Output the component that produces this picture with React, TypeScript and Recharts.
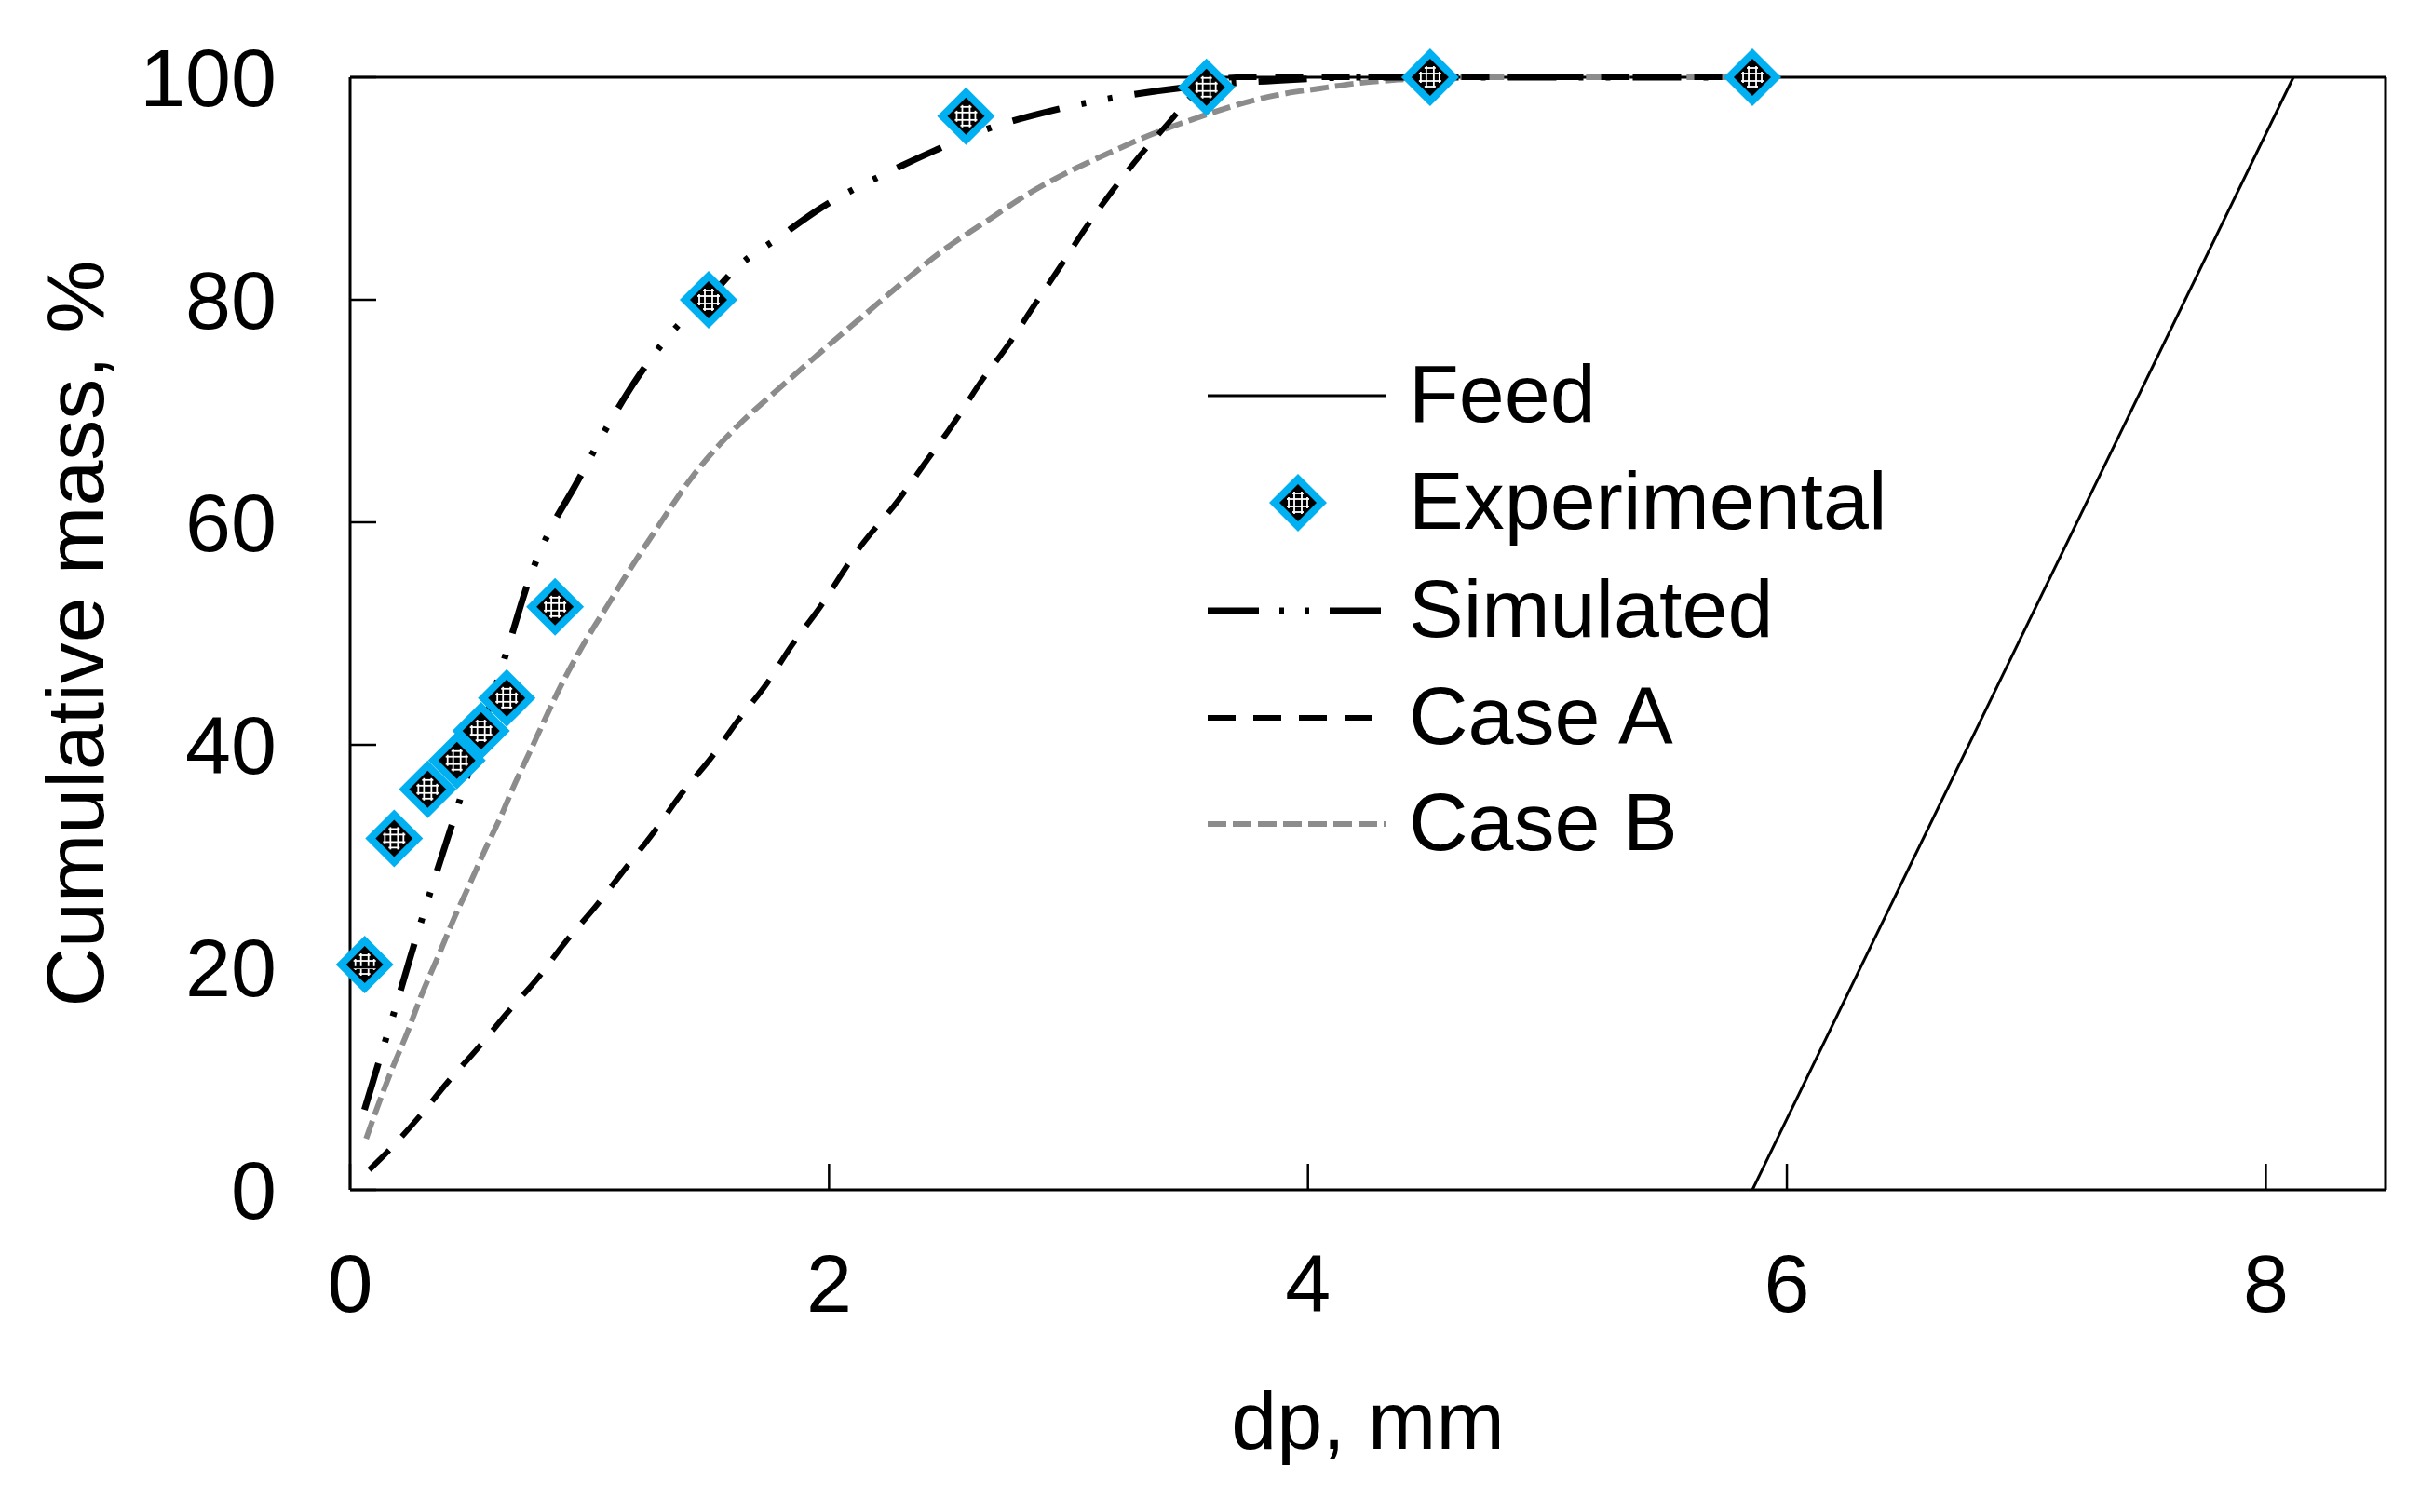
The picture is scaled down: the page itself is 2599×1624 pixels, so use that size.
import React from 'react'
import { ComposedChart, Line, Scatter, XAxis, YAxis, ReferenceLine, Legend, Label } from 'recharts'

const FONT = '"Liberation Sans", Arial, sans-serif'
const CYAN = '#00B0F0'
const GREY = '#8C8C8C'

const xTicks = [0, 2, 4, 6, 8]
const yTicks = [0, 20, 40, 60, 80, 100]

// dp (mm), cumulative mass (%)
const feed = [
  { x: 5.856, y: 0 },
  { x: 8.115, y: 100 },
]

const experimental = [
  { x: 0.061, y: 20.25 },
  { x: 0.184, y: 31.6 },
  { x: 0.324, y: 36.0 },
  { x: 0.446, y: 38.6 },
  { x: 0.547, y: 41.25 },
  { x: 0.654, y: 44.2 },
  { x: 0.856, y: 52.4 },
  { x: 1.497, y: 80.0 },
  { x: 2.572, y: 96.5 },
  { x: 3.576, y: 99.1 },
  { x: 4.51, y: 100 },
  { x: 5.856, y: 100 },
]

const simulated = [
  { x: 0.06, y: 7.2 },
  { x: 0.13, y: 12.2 },
  { x: 0.19, y: 16.4 },
  { x: 0.25, y: 20.8 },
  { x: 0.34, y: 27.1 },
  { x: 0.44, y: 33.8 },
  { x: 0.55, y: 41.3 },
  { x: 0.66, y: 48.8 },
  { x: 0.75, y: 55.0 },
  { x: 0.83, y: 59.1 },
  { x: 0.94, y: 63.3 },
  { x: 1.09, y: 69.2 },
  { x: 1.2, y: 73.0 },
  { x: 1.4, y: 78.4 },
  { x: 1.5, y: 80.3 },
  { x: 1.62, y: 83.0 },
  { x: 1.79, y: 85.6 },
  { x: 1.97, y: 88.3 },
  { x: 2.25, y: 91.5 },
  { x: 2.44, y: 93.4 },
  { x: 2.64, y: 95.2 },
  { x: 2.93, y: 97.0 },
  { x: 3.24, y: 98.35 },
  { x: 3.58, y: 99.3 },
  { x: 3.87, y: 99.7 },
  { x: 4.2, y: 100 },
  { x: 5.85, y: 100 },
]

const caseA = [
  { x: 0.08, y: 1.8 },
  { x: 0.16, y: 3.5 },
  { x: 0.29, y: 6.6 },
  { x: 0.41, y: 9.75 },
  { x: 0.54, y: 12.9 },
  { x: 0.66, y: 16.0 },
  { x: 0.79, y: 19.2 },
  { x: 0.9, y: 22.3 },
  { x: 1.03, y: 25.6 },
  { x: 1.15, y: 28.9 },
  { x: 1.27, y: 32.2 },
  { x: 1.38, y: 35.5 },
  { x: 1.51, y: 38.9 },
  { x: 1.62, y: 42.2 },
  { x: 1.74, y: 45.5 },
  { x: 1.84, y: 48.8 },
  { x: 1.96, y: 52.3 },
  { x: 2.12, y: 57.5 },
  { x: 2.29, y: 62.0 },
  { x: 2.41, y: 65.6 },
  { x: 2.53, y: 69.2 },
  { x: 2.63, y: 72.5 },
  { x: 2.75, y: 76.0 },
  { x: 2.86, y: 79.6 },
  { x: 2.96, y: 82.8 },
  { x: 3.07, y: 86.4 },
  { x: 3.18, y: 89.7 },
  { x: 3.3, y: 93.0 },
  { x: 3.43, y: 96.2 },
  { x: 3.5, y: 98.0 },
  { x: 3.58, y: 99.4 },
  { x: 3.7, y: 100 },
  { x: 5.85, y: 100 },
]

const caseB = [
  { x: 0.067, y: 4.6 },
  { x: 0.11, y: 7.2 },
  { x: 0.17, y: 10.6 },
  { x: 0.24, y: 14.2 },
  { x: 0.3, y: 17.6 },
  { x: 0.37, y: 21.1 },
  { x: 0.43, y: 24.2 },
  { x: 0.5, y: 27.5 },
  { x: 0.56, y: 30.4 },
  { x: 0.63, y: 33.6 },
  { x: 0.69, y: 36.6 },
  { x: 0.76, y: 39.8 },
  { x: 0.82, y: 42.6 },
  { x: 0.88, y: 45.3 },
  { x: 0.95, y: 48.1 },
  { x: 1.01, y: 50.3 },
  { x: 1.08, y: 52.7 },
  { x: 1.14, y: 54.8 },
  { x: 1.27, y: 59.1 },
  { x: 1.44, y: 64.4 },
  { x: 1.62, y: 68.7 },
  { x: 1.79, y: 72.0 },
  { x: 1.96, y: 75.2 },
  { x: 2.14, y: 78.5 },
  { x: 2.31, y: 81.6 },
  { x: 2.48, y: 84.5 },
  { x: 2.66, y: 87.1 },
  { x: 2.83, y: 89.5 },
  { x: 3.0, y: 91.5 },
  { x: 3.18, y: 93.3 },
  { x: 3.35, y: 94.9 },
  { x: 3.53, y: 96.3 },
  { x: 3.7, y: 97.5 },
  { x: 3.87, y: 98.4 },
  { x: 4.05, y: 99.0 },
  { x: 4.22, y: 99.5 },
  { x: 4.39, y: 99.8 },
  { x: 4.55, y: 100 },
  { x: 5.85, y: 100 },
]

const legendNames = ['Feed', 'Experimental', 'Simulated', 'Case A', 'Case B']

// cyan diamond with a hatched black core
function Diamond({ cx, cy }: { cx: number; cy: number }) {
  const pts = (r: number) => `${cx},${cy - r} ${cx + r},${cy} ${cx},${cy + r} ${cx - r},${cy}`
  const offs = [-10, -4, 4, 10]
  const inner = 16
  return (
    <g>
      <polygon points={pts(31)} fill={CYAN} />
      <polygon points={pts(20)} fill="#000" />
      {offs.map((d) => (
        <g key={d}>
          <line x1={cx + d} y1={cy - (inner - Math.abs(d))} x2={cx + d} y2={cy + (inner - Math.abs(d))} stroke="#fff" strokeWidth={1.8} />
          <line x1={cx - (inner - Math.abs(d))} y1={cy + d} x2={cx + (inner - Math.abs(d))} y2={cy + d} stroke="#fff" strokeWidth={1.8} />
        </g>
      ))}
    </g>
  )
}

function XTick({ x, y, payload }: any) {
  return (
    <g>
      <line x1={x} y1={y} x2={x} y2={y - 28} stroke="#000" strokeWidth={2.5} />
      <text x={x} y={y + 131} textAnchor="middle" fontSize={88} fontFamily={FONT} fill="#000">
        {payload.value}
      </text>
    </g>
  )
}

function YTick({ x, y, payload }: any) {
  return (
    <g>
      <line x1={x} y1={y} x2={x + 28} y2={y} stroke="#000" strokeWidth={2.5} />
      <text x={x - 79} y={y + 31} textAnchor="end" fontSize={88} fontFamily={FONT} fill="#000">
        {payload.value}
      </text>
    </g>
  )
}

function LegendBox() {
  const rowY = [65, 180, 296, 411, 525]
  const sample = (name: string, y: number) => {
    switch (name) {
      case 'Feed':
        return <line x1={17} y1={y} x2={209} y2={y} stroke="#000" strokeWidth={3} />
      case 'Experimental':
        return <Diamond cx={114} cy={y} />
      case 'Simulated':
        return <line x1={17} y1={y} x2={209} y2={y} stroke="#000" strokeWidth={7} strokeDasharray="55 22 5 22 5 22" />
      case 'Case A':
        return <line x1={17} y1={y} x2={194} y2={y} stroke="#000" strokeWidth={6} strokeDasharray="30 19" />
      default:
        return <line x1={17} y1={y} x2={209} y2={y} stroke={GREY} strokeWidth={6} strokeDasharray="20 7" />
    }
  }
  return (
    <svg width={800} height={600}>
      {legendNames.map((name, i) => (
        <g key={name}>
          {sample(name, rowY[i])}
          <text x={233} y={rowY[i] + 28} fontSize={88} fontFamily={FONT} fill="#000">
            {name}
          </text>
        </g>
      ))}
    </svg>
  )
}

export default function App() {
  return (
    <div style={{ position: 'fixed', left: 0, top: 0, width: 2599, height: 1624, background: '#fff' }}>
      <ComposedChart width={2599} height={1624} margin={{ top: 83, right: 37, bottom: 0, left: 0 }}>
        <XAxis
          type="number"
          dataKey="x"
          domain={[0, 8.5]}
          ticks={xTicks}
          interval={0}
          height={346}
          tickSize={0}
          tickMargin={0}
          tickLine={false}
          axisLine={{ stroke: '#000', strokeWidth: 3 }}
          tick={<XTick />}
        >
          <Label
            content={({ viewBox }: any) => (
              <text
                x={viewBox.x + viewBox.width / 2}
                y={viewBox.y + 278}
                textAnchor="middle"
                fontSize={88}
                fontFamily={FONT}
                fill="#000"
              >
                dp, mm
              </text>
            )}
          />
        </XAxis>
        <YAxis
          type="number"
          dataKey="y"
          domain={[0, 100]}
          ticks={yTicks}
          interval={0}
          width={376}
          tickSize={0}
          tickMargin={0}
          tickLine={false}
          axisLine={{ stroke: '#000', strokeWidth: 3 }}
          tick={<YTick />}
        >
          <Label
            content={({ viewBox }: any) => {
              const cx = viewBox.x + 111
              const cy = viewBox.y + viewBox.height / 2
              return (
                <text
                  x={cx}
                  y={cy}
                  transform={`rotate(-90, ${cx}, ${cy})`}
                  textAnchor="middle"
                  fontSize={88}
                  fontFamily={FONT}
                  fill="#000"
                >
                  Cumulative mass, %
                </text>
              )
            }}
          />
        </YAxis>
        <ReferenceLine y={100} stroke="#000" strokeWidth={3} />
        <ReferenceLine x={8.5} stroke="#000" strokeWidth={3} />
        <Line
          data={feed}
          dataKey="y"
          name="Feed"
          type="linear"
          stroke="#000"
          strokeWidth={3}
          dot={false}
          activeDot={false}
          isAnimationActive={false}
        />
        <Line
          data={caseB}
          dataKey="y"
          name="Case B"
          type="monotone"
          stroke={GREY}
          strokeWidth={6}
          strokeDasharray="20 7"
          dot={false}
          activeDot={false}
          isAnimationActive={false}
        />
        <Line
          data={caseA}
          dataKey="y"
          name="Case A"
          type="monotone"
          stroke="#000"
          strokeWidth={6}
          strokeDasharray="30 20"
          dot={false}
          activeDot={false}
          isAnimationActive={false}
        />
        <Line
          data={simulated}
          dataKey="y"
          name="Simulated"
          type="monotone"
          stroke="#000"
          strokeWidth={7}
          strokeDasharray="52 24 5 24 5 24"
          dot={false}
          activeDot={false}
          isAnimationActive={false}
        />
        <Scatter
          data={experimental}
          dataKey="y"
          name="Experimental"
          shape={(p: any) => <Diamond cx={p.cx} cy={p.cy} />}
          isAnimationActive={false}
        />
        <Legend
          layout="vertical"
          align="center"
          verticalAlign="middle"
          content={() => <LegendBox />}
          wrapperStyle={{ position: 'absolute', left: 1280, top: 360, width: 800, height: 600 }}
        />
      </ComposedChart>
    </div>
  )
}
